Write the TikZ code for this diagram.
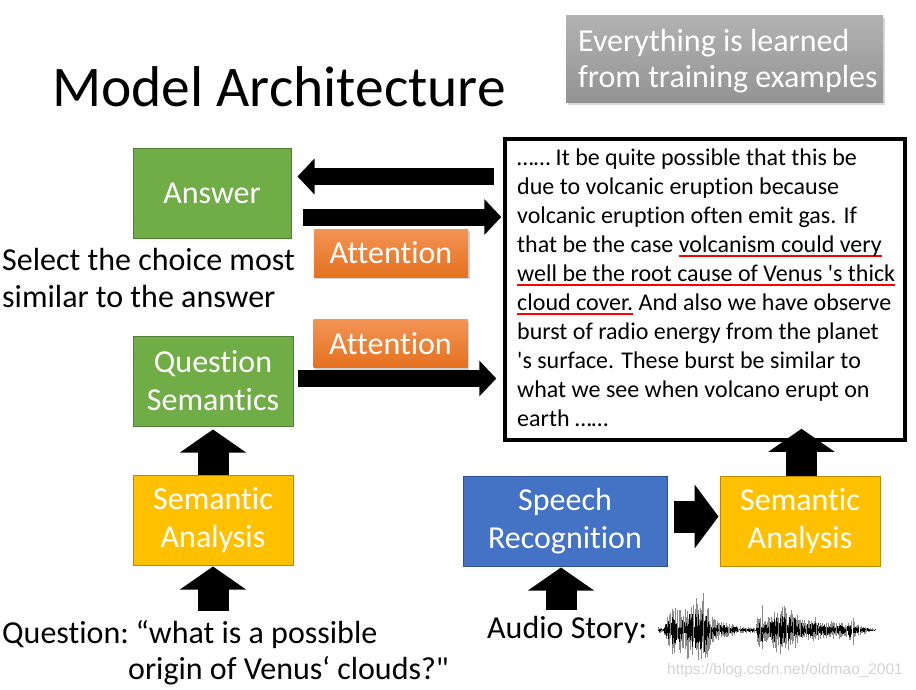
\documentclass[tikz,border=0pt]{standalone}
\usepackage{fontspec}
\setmainfont{Carlito}[Ligatures=NoCommon]
\newfontfamily\wmfont{Liberation Sans}
\usetikzlibrary{arrows.meta,calc,shadows}
\definecolor{gfill}{HTML}{70AD47}
\definecolor{gline}{HTML}{507E32}
\definecolor{yfill}{HTML}{FFC000}
\definecolor{yline}{HTML}{BC8C00}
\definecolor{bfill}{HTML}{4472C4}
\definecolor{bline}{HTML}{2F528F}
\definecolor{otop}{HTML}{F39455}
\definecolor{obot}{HTML}{E5711F}
\definecolor{gtop}{HTML}{B2B2B2}
\definecolor{gbot}{HTML}{939393}
\definecolor{wmgray}{HTML}{D4D4D4}
\newcommand\redul[1]{\setbox0\hbox{#1}\rlap{\color{red}\rule[-4.5pt]{\wd0}{1.5pt}}\box0\relax}
\newcommand\bigfont{\fontsize{32}{38}\selectfont}
\newcommand\tbfont{\fontsize{24}{29}\selectfont}
\newcommand\sq{\textquotesingle}
\begin{document}
\begin{tikzpicture}[x=1pt,y=-1pt,
  box/.style={draw, line width=1pt, text=white, align=center, inner sep=0pt, font=\bigfont},
  gbox/.style={box, fill=gfill, draw=gline},
  ybox/.style={box, fill=yfill, draw=yline},
  bbox/.style={box, fill=bfill, draw=bline},
  attn/.style={top color=otop, bottom color=obot, text=white, inner sep=0pt, font=\bigfont,
     minimum width=154pt, minimum height=48pt, drop shadow={opacity=0.35, shadow xshift=1.5pt, shadow yshift=-2pt}},
  harrow/.style={line width=17pt, -{Triangle[width=35pt,length=17pt]}},
  uparrow/.style={line width=31pt, -{Triangle[width=65pt,length=23pt]}},
  sarrow/.style={line width=32pt, -{Triangle[width=63pt,length=24pt]}},
  plain/.style={anchor=base west, inner sep=0pt, font=\bigfont},
  tbline/.style={anchor=base west, inner sep=0pt, font=\tbfont}
]
\useasboundingbox (0,0) rectangle (916,690);
\fill[white] (0,0) rectangle (916,690);

% title
\node[anchor=base west, inner sep=0pt, font=\fontsize{57.5}{60}\selectfont] (title) at (52,107) {Model Architecture};

% gray box
\node[top color=gtop, bottom color=gbot, minimum width=317pt, minimum height=87pt, inner sep=0pt,
  drop shadow={opacity=0.3, shadow xshift=2pt, shadow yshift=-2.5pt}] (gray) at (724.5,59.5) {};
\node[anchor=base west, inner sep=0pt, text=white, font=\bigfont, align=left] (gt1) at (578,52) {Everything is learned};
\node[anchor=base west, inner sep=0pt, text=white, font=\bigfont, align=left] (gt2) at (578,88) {from training examples};

% boxes
\node[gbox, minimum width=158pt, minimum height=89pt] (ans) at (212,193.5) {Answer};
\node[gbox, minimum width=160pt, minimum height=90pt] (qs) at (213,381) {Question\\Semantics};
\node[ybox, minimum width=160pt, minimum height=90pt] (sa1) at (213,520) {Semantic\\Analysis};
\node[bbox, minimum width=204pt, minimum height=90pt] (sr) at (565,521) {Speech\\Recognition};
\node[ybox, minimum width=160pt, minimum height=90pt] (sa2) at (800,521) {Semantic\\Analysis};

% attention
\node[attn] (at1) at (391,253) {Attention};
\node[attn] (at2) at (390.5,343.5) {Attention};

% text box
\node[draw, line width=3.5pt, minimum width=400pt, minimum height=301pt, inner sep=0pt, fill=white] (tb) at (705,289.5) {};
\foreach \t [count=\i from 0] in {
  {\ldots\ldots{} It be quite possible that this be},
  {due to volcanic eruption because},
  {volcanic eruption often emit gas. If},
  {that be the case \redul{volcanism could very}},
  {\redul{well be the root cause of Venus \sq s thick}},
  {\redul{cloud cover.} And also we have observe},
  {burst of radio energy from the planet},
  {\sq s surface. These burst be similar to},
  {what we see when volcano erupt on},
  {earth \ldots\ldots}}
  \node[tbline] (tl\i) at (517,{165+29*\i}) {\t};

% side texts
\node[plain] (sel1) at (2,270) {Select the choice most};
\node[plain] (sel2) at (2,307) {similar to the answer};
\node[plain] (q1) at (2,643) {Question:\kern-3pt{} “what is a possible};
\node[plain] (q2) at (128,679) {origin of Venus‘ clouds?\textquotedbl};
\node[plain] (aud) at (487,638) {Audio Story:};

% arrows
\draw[harrow] ($(tb.west |- ans.center)+(-9,-17)$) -- ($(ans.east)+(6,-17)$);
\draw[harrow] ($(ans.east)+(11,23.5)$) -- ($(tb.west |- ans.center)+(-2,23.5)$);
\draw[harrow] ($(qs.east)+(4,-2.5)$) -- ($(tb.west |- qs.center)+(-7,-2.5)$);
\draw[uparrow] (sa1.north) -- ($(qs.south)+(0,3)$);
\draw[uparrow] ($(sa1.south)+(0,45)$) -- ($(sa1.south)+(0,1)$);
\draw[uparrow] ($(sr.south)+(-4,43)$) -- ($(sr.south)+(-4,1)$);
\draw[sarrow] ($(sr.east)+(6,-4.5)$) -- ($(sa2.west)+(-1,-4.5)$);
\draw[uparrow] ($(sa2.north)+(1.5,0)$) -- ($(sa2.north |- tb.south)+(1.5,-13)$);

% waveform
\pgfmathsetseed{7}
\foreach \xa/\xb/\aa/\ab in {658/664/3/4, 664/672/6/25, 672/685/25/22, 685/705/28/40, 705/712/35/15,
   712/740/12/4, 740/756/3/3, 756/762/10/25, 762/780/14/24, 780/795/27/22, 795/808/20/10,
   808/818/10/14, 818/848/10/8, 848/853/10/17, 853/875/8/1}{
  \pgfmathtruncatemacro\nn{(\xb-\xa)/1.1}
  \foreach \k in {0,...,\nn}{
    \pgfmathsetmacro\xx{\xa+\k*(\xb-\xa)/\nn}
    \pgfmathsetmacro\amp{\aa+(\ab-\aa)*\k/\nn}
    \pgfmathsetmacro\up{\amp*(0.3+0.7*rnd)}
    \pgfmathsetmacro\dn{\amp*(0.3+0.7*rnd)}
    \pgfmathsetmacro\upb{\amp*(0.08+0.5*rnd)}
    \pgfmathsetmacro\dnb{\amp*(0.08+0.5*rnd)}
    \draw[black!45, line width=0.9pt] (\xx,{630-\up}) -- (\xx,{630+\dn});
    \draw[black, line width=0.6pt] (\xx,{630-\upb}) -- (\xx,{630+\dnb});
  }
}
\node[anchor=base west, inner sep=0pt, text=wmgray, font=\wmfont\fontsize{15.4}{17}\selectfont] (wm) at (667,674) {https://blog.csdn.net/oldmao\_2001};
\end{tikzpicture}
\end{document}
